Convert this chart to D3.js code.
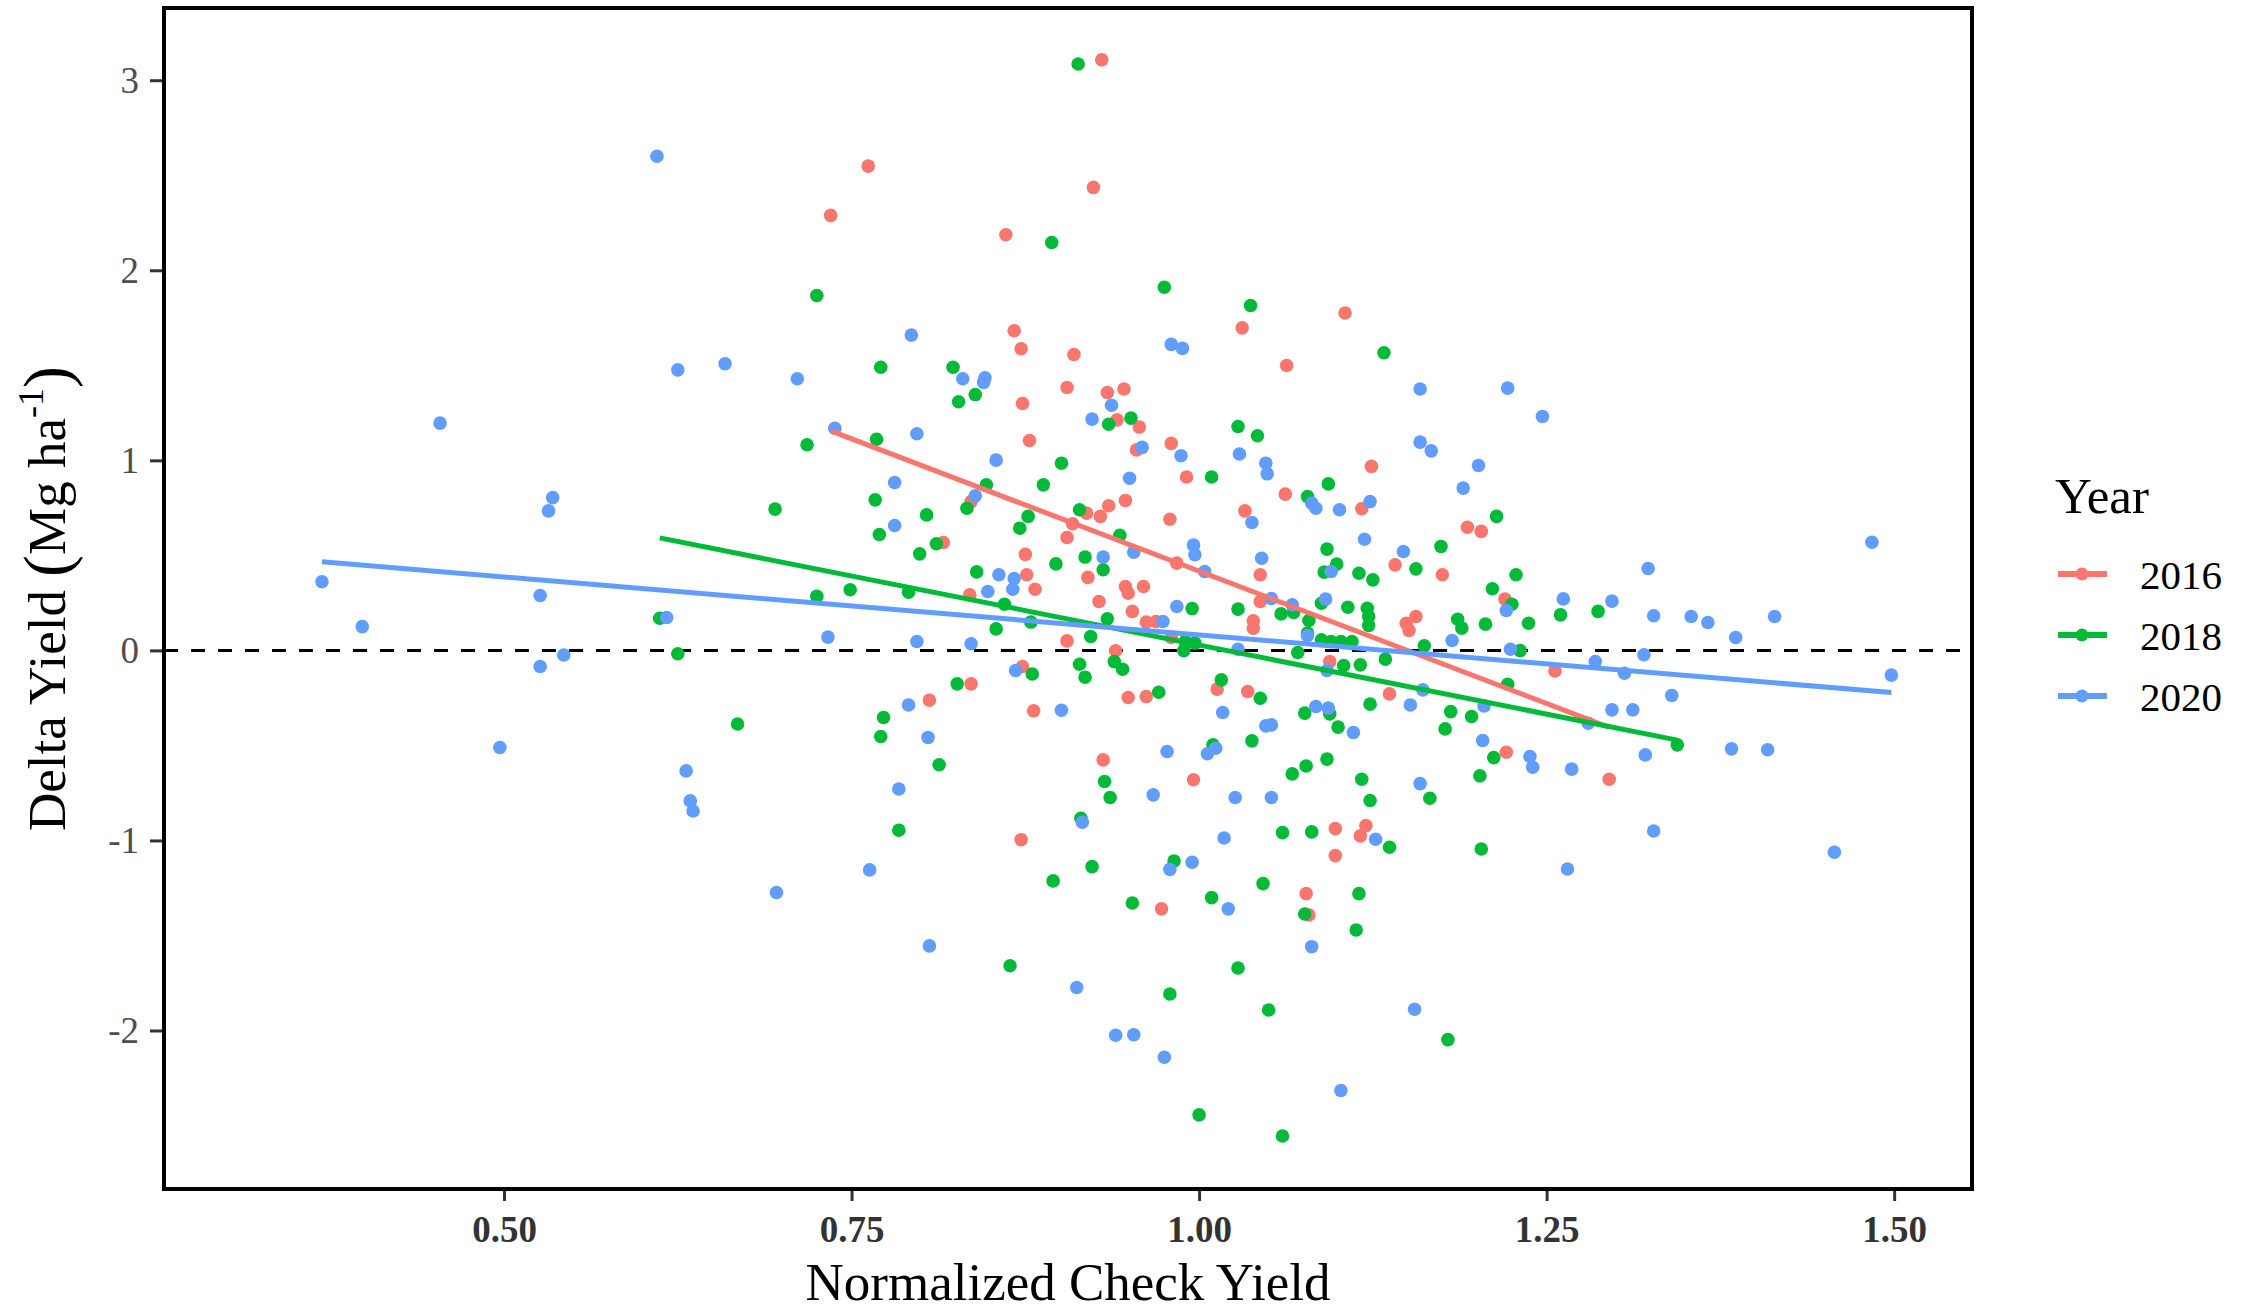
<!DOCTYPE html>
<html>
<head>
<meta charset="utf-8">
<script src="https://cdn.jsdelivr.net/npm/d3@7"></script>
<style>
  body { margin: 0; background: #fff; }
  text { font-family: "Liberation Serif", "Times New Roman", serif; }
</style>
</head>
<body>
<div id="chart"></div>
<script>
// --- data (Normalized Check Yield, Delta Yield) ---
const years = ["2016", "2018", "2020"];
const colors = ["#F8766D", "#00BA38", "#619CFF"];

const pts2016 = [
  [0.930,3.108],[0.762,2.548],[0.924,2.436],[0.735,2.289],[0.861,2.187],[1.105,1.775],[1.031,1.697],
  [0.867,1.682],[0.872,1.587],[0.910,1.557],[1.063,1.499],[0.873,1.299],[0.905,1.383],[0.934,1.357],
  [0.946,1.375],[0.941,1.213],[0.957,1.175],[0.878,1.104],[0.955,1.055],[0.980,1.089],[1.124,0.968],
  [0.991,0.912],[0.836,0.783],[1.062,0.822],[1.117,0.745],[1.033,0.734],[0.979,0.690],[0.919,0.722],
  [0.935,0.761],[0.947,0.789],[0.929,0.705],[0.909,0.666],[0.905,0.594],[0.816,0.568],[0.984,0.459],
  [1.044,0.398],[0.875,0.505],[0.920,0.384],[0.876,0.398],[0.882,0.322],[0.835,0.292],[0.947,0.336],
  [0.949,0.301],[0.960,0.336],[0.928,0.257],[0.952,0.205],[0.962,0.149],[0.969,0.152],[1.044,0.257],
  [1.039,0.156],[1.039,0.117],[0.980,0.068],[0.940,-0.002],[0.905,0.050],[1.094,-0.059],[0.873,-0.085],
  [0.836,-0.176],[1.013,-0.204],[1.035,-0.216],[0.949,-0.248],[0.962,-0.243],[0.806,-0.262],[0.881,-0.318],
  [0.931,-0.576],[0.996,-0.681],[0.872,-0.996],[0.973,-1.360],[1.098,-0.938],[1.120,-0.922],[1.116,-0.976],
  [1.098,-1.080],[1.077,-1.280],[1.079,-1.392],[1.193,0.648],[1.203,0.626],[1.141,0.450],[1.175,0.398],
  [1.220,0.270],[1.156,0.178],[1.149,0.143],[1.151,0.105],[1.256,-0.108],[1.137,-0.229],[1.221,-0.536],
  [1.295,-0.678]
];

const pts2018 = [
  [0.913,3.085],[0.894,2.146],[0.725,1.867],[0.975,1.911],[1.037,1.815],[1.133,1.566],[0.771,1.490],
  [0.823,1.490],[0.839,1.346],[0.827,1.308],[0.935,1.190],[0.951,1.222],[0.718,1.082],[0.768,1.111],
  [1.028,1.178],[1.042,1.129],[0.901,0.985],[1.009,0.912],[1.093,0.876],[0.847,0.871],[0.888,0.871],
  [0.833,0.748],[0.767,0.792],[1.078,0.810],[0.804,0.713],[0.877,0.705],[0.914,0.740],[0.871,0.643],
  [0.770,0.610],[0.943,0.606],[0.811,0.561],[0.799,0.508],[1.092,0.533],[1.099,0.454],[1.090,0.412],
  [1.115,0.406],[1.125,0.371],[0.897,0.455],[0.918,0.491],[0.931,0.424],[0.840,0.413],[0.725,0.284],
  [0.749,0.319],[0.791,0.306],[0.860,0.243],[0.995,0.220],[0.934,0.166],[0.879,0.149],[0.854,0.113],
  [1.059,0.192],[1.068,0.199],[1.028,0.217],[1.079,0.157],[1.078,0.091],[1.088,0.248],[1.107,0.227],
  [1.121,0.222],[1.122,0.178],[1.122,0.131],[1.088,0.056],[1.095,0.047],[1.102,0.047],[1.110,0.047],
  [0.990,0.047],[0.997,0.038],[0.989,-0.001],[1.071,-0.011],[0.922,0.073],[1.104,-0.080],[1.116,-0.076],
  [0.939,-0.059],[0.945,-0.099],[0.914,-0.073],[0.918,-0.141],[0.880,-0.124],[0.826,-0.176],[1.016,-0.155],
  [1.044,-0.252],[0.971,-0.220],[0.773,-0.353],[0.771,-0.453],[1.076,-0.330],[1.094,-0.334],[1.123,-0.283],
  [1.100,-0.404],[1.038,-0.476],[1.010,-0.497],[0.813,-0.602],[0.932,-0.690],[0.936,-0.774],[1.067,-0.650],
  [1.077,-0.608],[1.092,-0.572],[1.117,-0.678],[1.123,-0.790],[0.695,0.743],[0.612,0.169],[0.625,-0.018],
  [0.668,-0.387],[0.915,-0.883],[0.784,-0.946],[0.895,-1.213],[0.923,-1.138],[0.952,-1.329],[0.982,-1.108],
  [1.009,-1.301],[1.046,-1.227],[1.060,-0.959],[1.081,-0.955],[1.115,-1.280],[1.076,-1.387],[1.113,-1.471],
  [0.864,-1.659],[1.028,-1.671],[0.979,-1.808],[1.050,-1.892],[1.000,-2.444],[1.060,-2.555],[1.214,0.705],
  [1.174,0.547],[1.156,0.429],[1.228,0.398],[1.211,0.324],[1.225,0.243],[1.260,0.187],[1.287,0.205],
  [1.186,0.164],[1.189,0.117],[1.206,0.138],[1.237,0.143],[1.162,0.024],[1.231,-0.001],[1.134,-0.046],
  [1.222,-0.178],[1.181,-0.322],[1.196,-0.348],[1.177,-0.413],[1.344,-0.497],[1.212,-0.564],[1.202,-0.660],
  [1.166,-0.778],[1.137,-1.036],[1.203,-1.045],[1.179,-2.048]
];

const pts2020 = [
  [0.610,2.600],[0.625,1.476],[0.659,1.508],[0.793,1.659],[0.980,1.610],[0.988,1.589],[0.711,1.429],
  [0.830,1.429],[0.846,1.434],[0.845,1.410],[0.937,1.290],[1.159,1.375],[1.222,1.380],[1.247,1.231],
  [0.454,1.196],[0.535,0.804],[0.532,0.734],[0.369,0.361],[0.526,0.289],[0.398,0.125],[0.617,0.173],
  [0.543,-0.024],[0.526,-0.085],[0.497,-0.511],[0.631,-0.634],[0.634,-0.792],[0.636,-0.845],[0.923,1.217],
  [0.738,1.169],[0.797,1.140],[0.959,1.068],[0.987,1.024],[1.029,1.033],[1.048,0.985],[1.049,0.929],
  [0.854,1.001],[0.950,0.906],[0.781,0.883],[0.839,0.813],[1.081,0.775],[1.084,0.748],[1.101,0.740],
  [1.123,0.783],[1.038,0.673],[0.781,0.657],[0.953,0.517],[0.996,0.554],[0.997,0.503],[1.004,0.415],
  [1.045,0.485],[1.095,0.415],[1.119,0.585],[0.931,0.491],[0.856,0.398],[0.867,0.378],[0.866,0.322],
  [0.848,0.310],[0.984,0.231],[0.974,0.152],[1.052,0.273],[1.067,0.240],[1.091,0.270],[1.078,0.078],
  [1.028,0.006],[0.733,0.070],[0.797,0.047],[0.836,0.035],[1.092,-0.106],[0.868,-0.106],[0.791,-0.287],
  [0.901,-0.315],[0.805,-0.458],[1.017,-0.327],[1.084,-0.295],[1.093,-0.304],[1.048,-0.397],[1.052,-0.392],
  [1.111,-0.432],[0.977,-0.532],[1.006,-0.544],[1.012,-0.515],[0.784,-0.729],[0.967,-0.760],[1.026,-0.774],
  [1.052,-0.774],[0.916,-0.904],[0.763,-1.155],[0.696,-1.274],[0.979,-1.152],[0.995,-1.115],[1.018,-0.987],
  [1.021,-1.360],[1.127,-0.994],[1.081,-1.559],[0.806,-1.555],[0.912,-1.774],[0.940,-2.025],[0.953,-2.022],
  [0.975,-2.141],[1.102,-2.316],[1.159,1.096],[1.167,1.050],[1.201,0.973],[1.190,0.854],[1.147,0.520],
  [1.221,0.210],[1.262,0.271],[1.297,0.259],[1.323,0.431],[1.484,0.569],[1.327,0.182],[1.354,0.178],
  [1.366,0.147],[1.414,0.178],[1.386,0.068],[1.182,0.052],[1.224,0.006],[1.285,-0.059],[1.320,-0.023],
  [1.306,-0.120],[1.498,-0.130],[1.161,-0.208],[1.152,-0.287],[1.205,-0.292],[1.340,-0.237],[1.297,-0.313],
  [1.312,-0.313],[1.280,-0.383],[1.204,-0.474],[1.238,-0.558],[1.240,-0.615],[1.268,-0.625],[1.321,-0.550],
  [1.383,-0.518],[1.409,-0.523],[1.159,-0.701],[1.265,-1.150],[1.327,-0.950],[1.457,-1.062],[1.155,-1.888]
];

// fitted lm lines per year: [x start, y start, x end, y end]
const fit2016 = [0.735, 1.155, 1.295, -0.405];
const fit2018 = [0.612, 0.592, 1.344, -0.472];
const fit2020 = [0.369, 0.466, 1.498, -0.222];

const xTicks = [0.50, 0.75, 1.00, 1.25, 1.50];
const yTicks = [-2, -1, 0, 1, 2, 3];

// --- layout ---
const width = 2252, height = 1310;
const panel = { left: 164, top: 8, right: 1972, bottom: 1189 };

const svg = d3.select("#chart").append("svg")
    .attr("width", width)
    .attr("height", height)
    .style("background", "#fff");

const x = d3.scaleLinear()
    .domain([0.2554, 1.556])
    .range([panel.left, panel.right]);

const y = d3.scaleLinear()
    .domain([-2.834, 3.38])
    .range([panel.bottom, panel.top]);

// zero reference line
svg.append("line")
    .attr("x1", panel.left).attr("x2", panel.right)
    .attr("y1", y(0)).attr("y2", y(0))
    .attr("stroke", "#000")
    .attr("stroke-width", 3)
    .attr("stroke-dasharray", "14,13");

const series = [pts2016, pts2018, pts2020];
const fits = [fit2016, fit2018, fit2020];

// points, one group per year
series.forEach((pts, i) => {
    svg.append("g").selectAll("circle")
        .data(pts)
        .enter()
        .append("circle")
        .attr("cx", d => x(d[0]))
        .attr("cy", d => y(d[1]))
        .attr("r", 6.8)
        .attr("fill", colors[i]);
});

// regression lines
fits.forEach((f, i) => {
    svg.append("line")
        .attr("x1", x(f[0])).attr("y1", y(f[1]))
        .attr("x2", x(f[2])).attr("y2", y(f[3]))
        .attr("stroke", colors[i])
        .attr("stroke-width", 5)
        .attr("stroke-linecap", "butt");
});

// axes
const xAxis = svg.append("g")
    .attr("transform", `translate(0, ${panel.bottom})`)
    .call(d3.axisBottom(x).tickValues(xTicks).tickFormat(d3.format(".2f")).tickSize(12).tickPadding(15));

const yAxis = svg.append("g")
    .attr("transform", `translate(${panel.left}, 0)`)
    .call(d3.axisLeft(y).tickValues(yTicks).tickFormat(d => String(d)).tickSize(14).tickPadding(11));

[xAxis, yAxis].forEach(a => {
    a.select(".domain").remove();
    a.selectAll(".tick line").attr("stroke", "#333").attr("stroke-width", 3);
    a.selectAll(".tick text")
        .attr("fill", "#4D4D4D")
        .style("font-family", "'Liberation Serif', serif")
        .style("font-size", "37px");
});
xAxis.selectAll(".tick text").style("font-weight", "bold").attr("fill", "#333");

// panel border
svg.append("rect")
    .attr("x", panel.left).attr("y", panel.top)
    .attr("width", panel.right - panel.left)
    .attr("height", panel.bottom - panel.top)
    .attr("fill", "none")
    .attr("stroke", "#000")
    .attr("stroke-width", 4);

// axis titles
svg.append("text")
    .attr("x", (panel.left + panel.right) / 2)
    .attr("y", 1300)
    .attr("text-anchor", "middle")
    .style("font-size", "53px")
    .text("Normalized Check Yield");

const yTitle = svg.append("text")
    .attr("transform", `translate(65, ${(panel.top + panel.bottom) / 2}) rotate(-90)`)
    .attr("text-anchor", "middle")
    .style("font-size", "53px");
yTitle.append("tspan").text("Delta Yield ");
yTitle.append("tspan").style("font-size", "66px").attr("dy", "4").text("(");
yTitle.append("tspan").attr("dy", "-4").text("Mg ha");
yTitle.append("tspan").style("font-size", "36px").attr("dy", "-22").text("-1");
yTitle.append("tspan").style("font-size", "66px").attr("dy", "26").text(")");

// legend
const legend = svg.append("g");
legend.append("text")
    .attr("x", 2055).attr("y", 513)
    .style("font-size", "51px")
    .text("Year");

years.forEach((yr, i) => {
    const cy = 574 + i * 61;
    legend.append("line")
        .attr("x1", 2058).attr("x2", 2107)
        .attr("y1", cy).attr("y2", cy)
        .attr("stroke", colors[i])
        .attr("stroke-width", 6);
    legend.append("circle")
        .attr("cx", 2082).attr("cy", cy)
        .attr("r", 6.5)
        .attr("fill", colors[i]);
    legend.append("text")
        .attr("x", 2140).attr("y", cy + 15)
        .style("font-size", "41px")
        .text(yr);
});
</script>
</body>
</html>
